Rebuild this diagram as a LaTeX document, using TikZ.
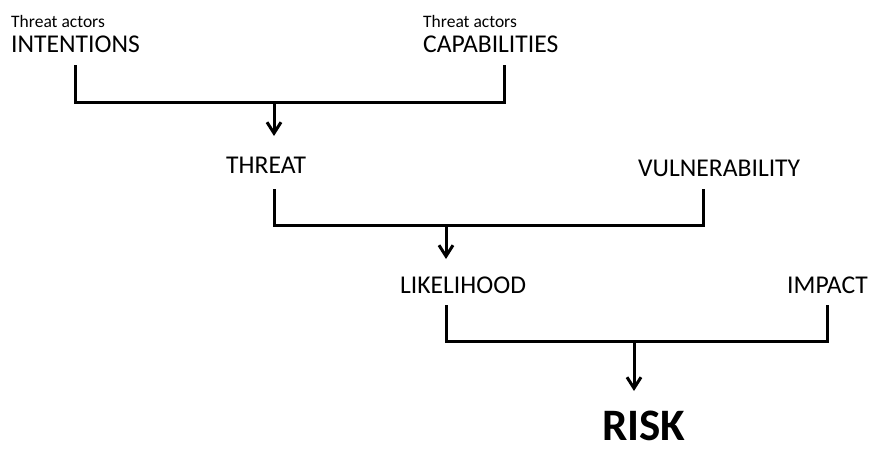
\documentclass[tikz,border=0pt]{standalone}
\usepackage{fontspec}
\setmainfont{Carlito}
\usetikzlibrary{arrows.meta}
\begin{document}
\begin{tikzpicture}[x=1pt,y=-1pt,
  small/.style={anchor=base west,inner sep=0pt,font=\fontsize{17.5}{20}\selectfont},
  label/.style={anchor=base west,inner sep=0pt,font=\fontsize{25.6}{30}\selectfont},
  big/.style={anchor=base west,inner sep=0pt,font=\fontsize{45}{52}\selectfont\bfseries},
  bracket/.style={line width=3pt,line cap=rect,line join=miter},
  arr/.style={line width=3pt,-{Straight Barb[length=11pt,width=14pt]}}]
\useasboundingbox (0,0) rectangle (870,452);
% texts
\node[small] (ta1) at (11,28) {Threat actors};
\node[label] (int) at (11,53) {INTENTIONS};
\node[small] (ta2) at (423,28) {Threat actors};
\node[label] (cap) at (423,53) {CAPABILITIES};
\node[label] (thr) at (226,173) {THREAT};
\node[label] (vul) at (638,176) {VULNERABILITY};
\node[label] (lik) at (400,293) {LIKELIHOOD};
\node[label] (imp) at (787,293) {IMPACT};
\node[big] (risk) at (602,440) {RISK};
% bracket 1
\coordinate (a1) at (75,67);
\coordinate (a2) at (504,67);
\coordinate (am) at (274,102);
\coordinate (at) at (274,136);
\draw[bracket] (a1) |- (am) -| (a2);
\draw[arr] (am) -- (at);
% bracket 2
\coordinate (b1) at (274,190);
\coordinate (b2) at (703,190);
\coordinate (bm) at (446,225);
\coordinate (bt) at (446,259);
\draw[bracket] (b1) |- (bm) -| (b2);
\draw[arr] (bm) -- (bt);
% bracket 3
\coordinate (c1) at (446,306);
\coordinate (c2) at (827,306);
\coordinate (cm) at (634,341);
\coordinate (ct) at (634,391);
\draw[bracket] (c1) |- (cm) -| (c2);
\draw[arr] (cm) -- (ct);
\end{tikzpicture}
\end{document}
